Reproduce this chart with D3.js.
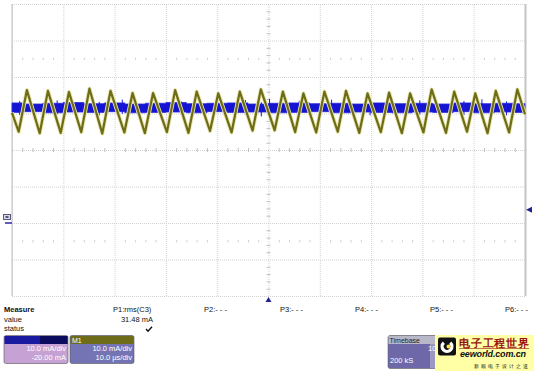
<!DOCTYPE html>
<html>
<head>
<meta charset="utf-8">
<script src="https://cdn.jsdelivr.net/npm/d3@7"></script>
<style>
  body { margin: 0; background: #fff; }
  text { font-family: "Liberation Sans", Arial, sans-serif; }
</style>
</head>
<body>
<div id="scope"></div>
<script>
// M1 trace (olive): vertices, time in µs, current in mA
const m1Times = [0, 1.3, 2.9, 5.4, 7.0, 9.5, 11.1, 13.5, 15.1, 17.6, 19.2, 21.9, 23.5, 25.9, 27.5,
  30.2, 31.8, 34.4, 36.0, 38.6, 40.2, 42.8, 44.4, 46.9, 48.5, 51.2, 52.8, 55.2, 56.8, 59.3, 60.9,
  63.5, 65.1, 67.7, 69.3, 71.9, 73.5, 76.0, 77.6, 80.2, 81.8, 84.6, 86.2, 88.7, 90.3, 92.7, 94.3,
  96.9, 98.5, 100];
const m1Values = [10.2, 5.0, 16.4, 4.6, 16.2, 4.7, 15.9, 4.9, 16.8, 4.5, 16.2, 4.8, 15.6, 4.6, 15.6,
  4.9, 16.4, 4.7, 16.0, 5.2, 15.5, 4.8, 16.0, 5.3, 16.6, 5.4, 16.0, 4.9, 15.5, 4.8, 16.0,
  5.0, 16.2, 4.7, 15.5, 4.9, 15.7, 4.6, 15.5, 4.8, 16.6, 4.7, 16.0, 5.0, 15.5, 4.6, 16.2,
  4.8, 16.6, 9.8];

// C3 trace (blue): noise band edges, sampled every 4 µs
const c3Times = [0, 4, 8, 12, 16, 20, 24, 28, 32, 36, 40, 44, 48, 52, 56, 60, 64, 68, 72, 76, 80, 84, 88, 92, 96, 100];
const c3Upper = [12.9, 12.6, 12.8, 13.0, 12.7, 12.9, 12.6, 12.8, 13.0, 12.7, 12.8, 12.9, 12.6,
  12.8, 12.9, 12.7, 12.8, 12.6, 12.9, 12.7, 12.8, 12.6, 12.9, 12.7, 12.8, 12.7];
const c3Lower = [10.3, 10.5, 10.2, 10.4, 10.3, 10.5, 10.2, 10.3, 10.4, 10.2, 10.5, 10.3, 10.4,
  10.2, 10.3, 10.5, 10.2, 10.4, 10.3, 10.2, 10.4, 10.3, 10.5, 10.2, 10.4, 10.3];
// occasional noise spikes: [time µs, low mA, high mA]
const c3Spikes = [[1.5, 9.6, 13.4], [8.8, 9.8, 13.6], [17.0, 9.5, 13.2], [21.5, 9.9, 13.8],
  [33.0, 9.6, 13.3], [45.5, 9.7, 13.7], [48.6, 9.2, 13.1], [50.2, 10.0, 14.0], [56.0, 9.6, 13.5],
  [62.3, 9.8, 13.8], [69.8, 9.5, 13.3], [79.5, 9.7, 13.6], [88.1, 9.6, 13.4], [91.6, 9.8, 13.9],
  [96.4, 9.5, 13.3]];

// grid divisions
const xDivs = d3.range(0, 101, 10);
const yDivs = d3.range(-40, 41, 10);
const xMinor = d3.range(0, 100.1, 2);
const yMinor = d3.range(-40, 40.1, 2);
const quarterRows = [25, -25];

// measurement panel text
const measureLabels = ["Measure", "value", "status"];
const paramNames = ["P1:rms(C3)", "P2:- - -", "P3:- - -", "P4:- - -", "P5:- - -", "P6:- - -"];
const p1Value = "31.48 mA";
const c3Box = ["10.0 mA/div", "-20.00 mA"];
const m1Box = ["10.0 mA/div", "10.0 µs/div"];
const timebase = ["Timebase", "10", "200 kS"];

const W = 534, H = 372;
const plot = { left: 12, right: 525, top: 4, bottom: 296 };

const svg = d3.select("#scope").append("svg")
    .attr("width", W)
    .attr("height", H);

const x = d3.scaleLinear().domain([0, 100]).range([plot.left, plot.right]);
const y = d3.scaleLinear().domain([-40, 40]).range([plot.bottom, plot.top]);

const gridColor = "#d2d2d2";

// dotted grid lines
svg.append("g")
    .attr("transform", `translate(0,${plot.bottom})`)
    .call(d3.axisBottom(x).tickValues(xDivs).tickSize(-(plot.bottom - plot.top)).tickFormat(""))
    .call(g => g.select(".domain").remove())
    .call(g => g.selectAll("line").attr("stroke", gridColor).attr("stroke-dasharray", "1,1"));

svg.append("g")
    .attr("transform", `translate(${plot.left},0)`)
    .call(d3.axisLeft(y).tickValues(yDivs).tickSize(-(plot.right - plot.left)).tickFormat(""))
    .call(g => g.select(".domain").remove())
    .call(g => g.selectAll("line").attr("stroke", gridColor).attr("stroke-dasharray", "1,1"));

// solid side borders
svg.append("line").attr("x1", plot.left).attr("x2", plot.left)
    .attr("y1", plot.top).attr("y2", plot.bottom).attr("stroke", "#bcbcbc");
svg.append("line").attr("x1", plot.right + 0.5).attr("x2", plot.right + 0.5)
    .attr("y1", plot.top).attr("y2", plot.bottom).attr("stroke", "#c4c4c4").attr("stroke-width", 2);

// center-line minor ticks
svg.append("g")
    .attr("transform", `translate(0,${y(0)})`)
    .call(d3.axisBottom(x).tickValues(xMinor.filter(v => v % 10 !== 0)).tickSize(2).tickSizeOuter(0).tickFormat(""))
    .call(g => g.select(".domain").remove())
    .call(g => g.selectAll("line").attr("stroke", "#c0c0c0").attr("y1", -2));

svg.append("g")
    .attr("transform", `translate(${x(50)},0)`)
    .call(d3.axisLeft(y).tickValues(yMinor.filter(v => v % 10 !== 0)).tickSize(2).tickFormat(""))
    .call(g => g.select(".domain").remove())
    .call(g => g.selectAll("line").attr("stroke", "#c0c0c0").attr("x1", 2));

// quarter rows of dots
quarterRows.forEach(r => {
    svg.append("g")
        .attr("transform", `translate(0,${y(r)})`)
        .call(d3.axisBottom(x).tickValues(xMinor.filter(v => v % 10 !== 0)).tickSize(1).tickSizeOuter(0).tickFormat(""))
        .call(g => g.select(".domain").remove())
        .call(g => g.selectAll("line").attr("stroke", "#c8c8c8").attr("y1", -1));
});

// C3 noise band
const c3Data = c3Times.map((t, i) => ({ t, hi: c3Upper[i], lo: c3Lower[i] }));
svg.append("path")
    .datum(c3Data)
    .attr("fill", "#1414d2")
    .attr("stroke", "#2a2ae0")
    .attr("stroke-width", 0.8)
    .attr("d", d3.area()
        .x(d => x(d.t))
        .y0(d => y(d.lo))
        .y1(d => y(d.hi))
        .curve(d3.curveStep));

svg.selectAll("line.spike")
    .data(c3Spikes)
    .enter()
    .append("line")
    .attr("class", "spike")
    .attr("x1", d => x(d[0]))
    .attr("x2", d => x(d[0]))
    .attr("y1", d => y(d[1]))
    .attr("y2", d => y(d[2]))
    .attr("stroke", "#1a1ad8")
    .attr("stroke-width", 1);

// M1 trace
const m1Data = m1Times.map((t, i) => ({ t, v: m1Values[i] }));
const m1Line = d3.line().x(d => x(d.t)).y(d => y(d.v));

svg.append("path")
    .datum(m1Data)
    .attr("fill", "none")
    .attr("stroke", "#e6e6a8")
    .attr("stroke-width", 4)
    .attr("stroke-linejoin", "round")
    .attr("d", m1Line);

svg.append("path")
    .datum(m1Data)
    .attr("fill", "none")
    .attr("stroke", "#6e6c1a")
    .attr("stroke-width", 2.2)
    .attr("stroke-linejoin", "round")
    .attr("d", m1Line);

// markers
const markColor = "#22228e";
svg.append("path")
    .attr("d", `M${x(50)},${plot.bottom + 1} l-3,5 l6,0 Z`)
    .attr("fill", markColor);
svg.append("path")
    .attr("d", `M${plot.right + 1},${y(-16.4)} l6,-3 l0,6 Z`)
    .attr("fill", markColor);
// C3 ground marker on the left
svg.append("rect").attr("x", 3.5).attr("y", 214.5).attr("width", 7).attr("height", 5)
    .attr("fill", "#d8d8e8").attr("stroke", "#5a5a80").attr("stroke-width", 1);
svg.append("rect").attr("x", 5.5).attr("y", 216).attr("width", 3).attr("height", 2)
    .attr("fill", "#5a5a80");
svg.append("line").attr("x1", 5).attr("x2", plot.left).attr("y1", y(-20)).attr("y2", y(-20))
    .attr("stroke", "#2828a8").attr("stroke-width", 1.5);

// measurement panel
const fs = "7.5px";
svg.selectAll("text.mlabel")
    .data(measureLabels)
    .enter()
    .append("text")
    .attr("x", 4)
    .attr("y", (d, i) => 312 + i * 9.5)
    .attr("font-size", fs)
    .attr("font-weight", (d, i) => i === 0 ? "bold" : "normal")
    .attr("fill", "#111")
    .text(d => d);

const paramX = [113, 204, 280, 355, 430, 505];
svg.selectAll("text.param")
    .data(paramNames)
    .enter()
    .append("text")
    .attr("x", (d, i) => paramX[i])
    .attr("y", 312)
    .attr("font-size", fs)
    .attr("fill", "#111")
    .text(d => d);

svg.append("text").attr("x", 153).attr("y", 321.5).attr("text-anchor", "end")
    .attr("font-size", fs).attr("fill", "#111").text(p1Value);
svg.append("path").attr("d", "M146,329 l2,2.2 l4,-4.5")
    .attr("fill", "none").attr("stroke", "#111").attr("stroke-width", 1.4);

// channel boxes
function chanBox(x0, w, headColor, bodyColor, title, lines) {
    const g = svg.append("g");
    g.append("rect").attr("x", x0).attr("y", 335.5).attr("width", w).attr("height", 28)
        .attr("rx", 2).attr("fill", bodyColor).attr("stroke", "#555").attr("stroke-width", 0.6);
    g.append("rect").attr("x", x0 + 0.5).attr("y", 336).attr("width", w - 1).attr("height", 8)
        .attr("fill", headColor);
    if (title) {
        g.append("text").attr("x", x0 + 2).attr("y", 342.5).attr("font-size", "7px")
            .attr("fill", "#fff").text(title);
    }
    g.selectAll("text.v").data(lines).enter().append("text")
        .attr("x", x0 + w - 2)
        .attr("y", (d, i) => 351 + i * 9)
        .attr("text-anchor", "end")
        .attr("font-size", fs)
        .attr("fill", "#fff")
        .text(d => d);
    return g;
}
const b1 = chanBox(4, 64, "#1a1aa0", "#c6a2d4", "", c3Box);
b1.append("rect").attr("x", 40).attr("y", 336).attr("width", 27.5).attr("height", 8).attr("fill", "#0c0c5e");
chanBox(70, 64, "#6e6c18", "#7474b4", "M1", m1Box);

// timebase box
svg.append("rect").attr("x", 388).attr("y", 335.5).attr("width", 50).attr("height", 33)
    .attr("rx", 2).attr("fill", "#6e68a8").attr("stroke", "#666").attr("stroke-width", 0.6);
svg.append("rect").attr("x", 388.5).attr("y", 336).attr("width", 49).attr("height", 8).attr("fill", "#b8b8c8");
svg.append("rect").attr("x", 430).attr("y", 344).attr("width", 8).attr("height", 24).attr("fill", "#9c98c4");
svg.append("text").attr("x", 389.5).attr("y", 342.5).attr("font-size", "7px").attr("fill", "#222").text(timebase[0]);
svg.append("text").attr("x", 428).attr("y", 350.5).attr("font-size", fs).attr("fill", "#fff").text(timebase[1]);
svg.append("text").attr("x", 390).attr("y", 363).attr("font-size", fs).attr("fill", "#fff").text(timebase[2]);

// watermark logo
const logo = svg.append("g");
logo.append("rect").attr("x", 435).attr("y", 335).attr("width", 99).attr("height", 36).attr("fill", "#ffffa6");
logo.append("rect").attr("x", 438).attr("y", 337.5).attr("width", 18).attr("height", 18).attr("rx", 2).attr("fill", "#111");
logo.append("path")
    .attr("transform", "translate(447,346.5)")
    .attr("d", d3.arc()({ innerRadius: 3.2, outerRadius: 6.5, startAngle: 0.7, endAngle: 2 * Math.PI - 0.7 }))
    .attr("fill", "#fff");
logo.append("circle").attr("cx", 448.5).attr("cy", 346.5).attr("r", 2).attr("fill", "#ffe040");
logo.append("text").attr("x", 459).attr("y", 346.5)
    .attr("font-family", "'Noto Sans CJK SC', sans-serif").attr("font-size", "11.3px").attr("font-weight", "bold")
    .attr("fill", "#9a1010").attr("textLength", 70).text("电子工程世界");
logo.append("line").attr("x1", 459).attr("x2", 529).attr("y1", 348.5).attr("y2", 348.5)
    .attr("stroke", "#9a1010").attr("stroke-width", 0.6);
logo.append("text").attr("x", 460).attr("y", 357)
    .attr("font-size", "9px").attr("font-weight", "bold").attr("font-style", "italic")
    .attr("fill", "#111").attr("textLength", 66).text("eeworld.com.cn");
logo.append("text").attr("x", 474).attr("y", 367.5)
    .attr("font-family", "'Noto Sans CJK SC', sans-serif").attr("font-size", "4.5px")
    .attr("fill", "#222").attr("textLength", 54).text("新 颖 电 子 设 计 之 道");
</script>
</body>
</html>
